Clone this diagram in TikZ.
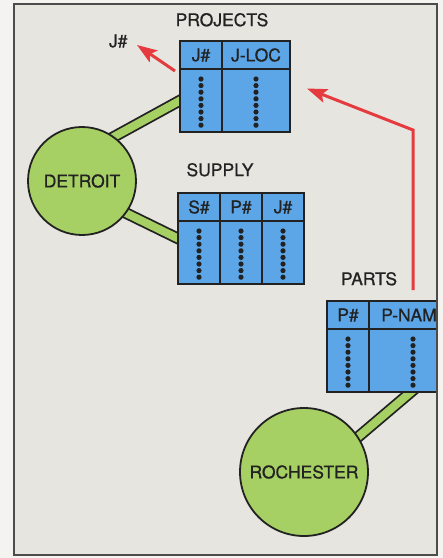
\documentclass[tikz,border=0pt]{standalone}
\usepackage{fontspec}
\setmainfont{TeX Gyre Heros}
\newfontfamily\lblfam[FakeBold=0.8]{TeX Gyre Heros}
\usepackage{xcolor}
\usetikzlibrary{arrows.meta,positioning,backgrounds,calc}

\definecolor{pagebg}{HTML}{F4F3EF}
\definecolor{panelbg}{HTML}{E7E5E0}
\definecolor{framec}{HTML}{4C4C4C}
\definecolor{ink}{HTML}{222222}
\definecolor{tblblue}{HTML}{5CA6E8}
\definecolor{leafgreen}{HTML}{A7D064}
\definecolor{arrowred}{HTML}{E53B3F}
\newcommand{\lblfont}{\lblfam\fontsize{17.5pt}{20pt}\selectfont}

\begin{document}
\begin{tikzpicture}[
      x=1pt, y=-1pt,
      node distance=0pt,
      every node/.style={font=\lblfont, text=ink},
      hdr/.style={
        draw=ink, line width=1.8pt, fill=tblblue,
        minimum width=42pt, minimum height=28pt,
        inner sep=0pt, outer sep=0pt
      },
      body/.style={hdr, minimum height=63pt},
      site/.style={
        draw=ink, line width=1.8pt, circle, fill=leafgreen, inner sep=0pt
      },
      band/.style={
        draw=ink, line width=1.8pt, double=leafgreen, double distance=8pt,
        shorten <=-6pt, shorten >=-6pt
      },
      redarrow/.style={
        draw=arrowred, line width=3pt,
        -{Stealth[length=20pt, width=14pt, inset=4pt]}
      }
    ]
    \useasboundingbox (0,0) rectangle (443,558);
    \begin{pgfonlayer}{background}
      \fill[pagebg] (0,0) rectangle (443,558);
      \fill[panelbg] (14,4) rectangle (437,555);
    \end{pgfonlayer}

    % sites
    \node[site, minimum size=108pt] (detroit) at (82,181) {DETROIT};
    \node[site, minimum size=128pt] (rochester) at (304,472) {ROCHESTER};

    % PROJECTS table
    \node[hdr, anchor=north west] (pjhdr) at (180,41) {J\#};
    \node[hdr, minimum width=68pt, right=of pjhdr] (plhdr) {J-LOC};
    \node[body, below=of pjhdr] (pjbody) {};
    \node[body, minimum width=68pt, below=of plhdr] (plbody) {};
    \node[above=11pt of pjhdr.north east] (projects) {PROJECTS};
    \node[left=49pt of pjhdr.north west] (jlabel) {J\#};

    % SUPPLY table
    \node[hdr, anchor=north west] (sshdr) at (178,193) {S\#};
    \node[hdr, right=of sshdr] (sphdr) {P\#};
    \node[hdr, right=of sphdr] (sjhdr) {J\#};
    \node[body, below=of sshdr] (ssbody) {};
    \node[body, below=of sphdr] (spbody) {};
    \node[body, below=of sjhdr] (sjbody) {};
    \node[above=13pt of sshdr.north east] (supply) {SUPPLY};

    % PARTS table, cut off by the frame
    \begin{scope}
      \clip (14,4) rectangle (437,555);
      \node[hdr, anchor=north west] (pphdr) at (327,301) {P\#};
      \node[hdr, minimum width=80pt, right=of pphdr] (pnhdr) {P-NAM};
      \node[body, below=of pphdr] (ppbody) {};
      \node[body, minimum width=80pt, below=of pnhdr] (pnbody) {};
    \end{scope}
    \node[above=12pt of pphdr.north east] (parts) {PARTS};

    % column dots
    \foreach \c in {pjbody,plbody,ssbody,spbody,sjbody,ppbody}
      \foreach \k in {0,...,7}
        \fill[ink] ($(\c.north)+(0,10+\k*6.6)$) circle (2.6pt);
    \foreach \k in {0,...,7}
      \fill[ink] ($(pnbody.north)+(4,10+\k*6.6)$) circle (2.6pt);

    % links between sites and tables
    \begin{pgfonlayer}{background}
      \draw[band] (detroit.54) -- (pjbody.west);
      \draw[band] (detroit.-36) -- ([yshift=14pt]ssbody.west);
      \draw[band] (rochester.33) -- ([xshift=2pt]pnbody.south);
    \end{pgfonlayer}

    % red arrows
    \coordinate (redstart) at ([xshift=4pt,yshift=11pt]pnhdr.north);
    \coordinate (redbend) at (413,130);
    \draw[redarrow] (redstart) -- (redbend) -- ([xshift=17pt,yshift=12pt]plbody.east);
    \draw[redarrow] ([xshift=-5pt,yshift=-2pt]pjbody.north west) -- ([xshift=6pt,yshift=-4pt]jlabel.east);

    \draw[framec, line width=2pt] (14,4) rectangle (437,555);
  \end{tikzpicture}
\end{document}
